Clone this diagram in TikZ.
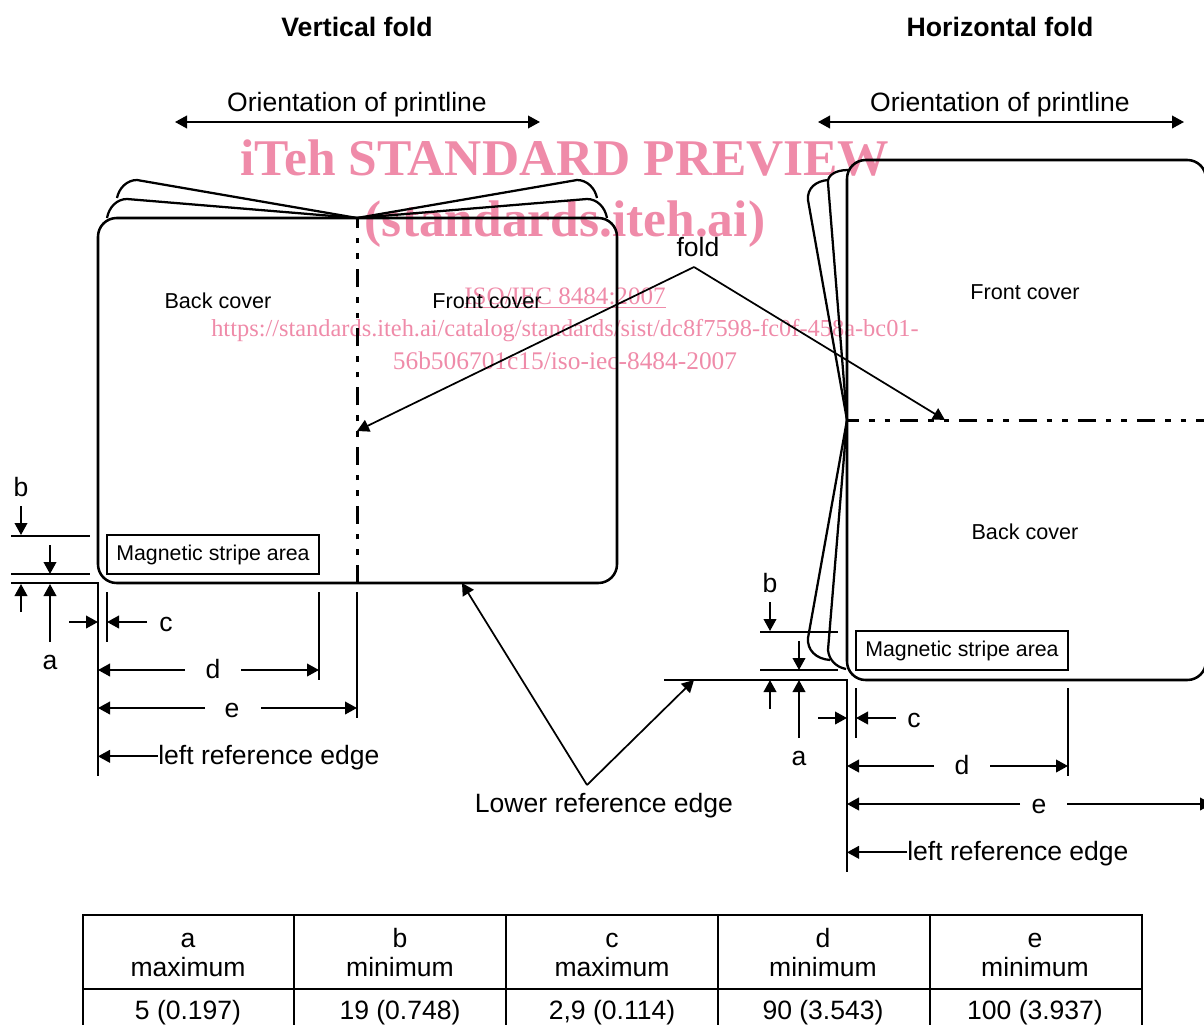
\documentclass[tikz,border=0pt]{standalone}
\usepackage{fontspec}
\setmainfont{Liberation Sans}
\newfontfamily\wmfont{Liberation Serif}
\usetikzlibrary{arrows.meta}
\definecolor{wmpink}{HTML}{EF8BA9}
\tikzset{
  x=0.75pt,y=-0.75pt,
  card/.style={line width=1.9pt,rounded corners=14pt},
  leaf/.style={line width=1.7pt},
  foldv/.style={line width=2.25pt,dash pattern=on 13.5pt off 7.5pt on 4.2pt off 7.5pt on 4.2pt off 7.5pt},
  foldh/.style={foldv,dash phase=4.5pt},
  edge/.style={line width=1.7pt},
  thin line/.style={line width=1.5pt},
  arr/.style={line width=1.3pt,-{Triangle[length=9pt,width=9.5pt]}},
  arrb/.style={line width=1.3pt,{Triangle[length=9pt,width=9.5pt]}-{Triangle[length=9pt,width=9.5pt]}},
  lab/.style={inner sep=0pt,text height=14.5pt,text depth=3pt,yshift=-1pt,font=\fontsize{19.9}{23}\selectfont},
  labs/.style={inner sep=0pt,font=\fontsize{16.2}{20}\selectfont},
  ttl/.style={inner sep=0pt,font=\fontsize{20}{23}\selectfont\bfseries},
  stripe/.style={draw,line width=1.5pt,minimum width=159pt,minimum height=29.5pt,inner sep=0pt,font=\fontsize{16}{20}\selectfont},
  wm/.style={inner sep=0pt,text=wmpink,blend mode=multiply},
}
\begin{document}
\begin{tikzpicture}
\useasboundingbox (0,0) rectangle (1204,1025);
\clip (0,0) rectangle (1204,1025);
% ---------- titles
\node[ttl] (t1) at (357,27) {Vertical fold};
\node[ttl] (t2) at (1000,27) {Horizontal fold};
\node[lab] (o1) at (357,102) {Orientation of printline};
\node[lab] (o2) at (1000,102) {Orientation of printline};
\coordinate (o1l) at (175,122); \coordinate (o1r) at (540,122);
\coordinate (o2l) at (818,122); \coordinate (o2r) at (1184,122);
\draw[arrb] (o1l) -- (o1r);
\draw[arrb] (o2l) -- (o2r);
% ---------- vertical fold card
\coordinate (vf) at (357,218);
\draw[card] (98,583) rectangle (617,218);
\draw[leaf] (107,218) .. controls (109,207) and (117,199) .. (127,199) -- (vf);
\draw[leaf] (117,198) .. controls (119,188) and (127,180) .. (137,180) -- (vf);
\draw[leaf] (607,218) .. controls (605,207) and (597,199) .. (587,199) -- (vf);
\draw[leaf] (597,198) .. controls (595,188) and (587,180) .. (577,180) -- (vf);
\draw[foldv] (357,583) -- (vf);
\node[labs] (bc1) at (218,301) {Back cover};
\node[labs] (fc1) at (487,301) {Front cover};
\node[stripe] (ms1) at (213,554.5) {Magnetic stripe area};
% ---------- horizontal fold card
\coordinate (hf) at (847,420);
\draw[card] (847,680) rectangle (1206,160);
\draw[leaf] (808,200) .. controls (807,188) and (816,181) .. (828,180);
\draw[leaf] (808,200) -- (hf);
\draw[leaf] (828,183) .. controls (827,175) and (836,170) .. (848,170);
\draw[leaf] (828,183) -- (hf);
\draw[leaf] (hf) -- (808,638) .. controls (807,650) and (816,659) .. (830,660);
\draw[leaf] (hf) -- (828,650) .. controls (829,660) and (836,667) .. (846,669);
\draw[foldh] (hf) -- (1204,420);
\node[labs] (fc2) at (1025,292) {Front cover};
\node[labs] (bc2) at (1025,532) {Back cover};
\node[stripe] (ms2) at (962,650.5) {Magnetic stripe area};
% ---------- fold connectors
\node[lab] (fold) at (698,247) {fold};
\coordinate (foldapex) at (694,267);
\coordinate (foldv) at (357,431);
\coordinate (foldh) at (945,420);
\draw[arr] (foldapex) -- (foldv);
\draw[arr] (foldapex) -- (foldh);
\node[lab] (lower) at (604,803) {Lower reference edge};
\coordinate (lowapex) at (587,785);
\coordinate (low1) at (462,583);
\coordinate (low2) at (694,680);
\draw[arr] (lowapex) -- (low1);
\draw[arr] (lowapex) -- (low2);
% ---------- dimensions, left
\coordinate (le1) at (98,776);
\draw[thin line] (11,535.5) -- (90,535.5);
\draw[thin line] (11,574) -- (90,574);
\draw[edge] (11,583) -- (98,583) -- (le1);
\draw[thin line] (107,592) -- (107,642);
\draw[thin line] (319,592) -- (319,680);
\draw[thin line] (357,592) -- (357,718);
\node[lab] (b1) at (21,487) {b};
\node[lab] (a1) at (50,660) {a};
\node[lab] (c1) at (166,622) {c};
\node[lab] (d1) at (213,669) {d};
\node[lab] (e1) at (232,708) {e};
\node[lab,anchor=west] (l1) at (158,755) {left reference edge};
\draw[arr] (21,506) -- (21,535);
\draw[arr] (50,545) -- (50,574);
\draw[arr] (21,612) -- (21,584);
\draw[arr] (50,642) -- (50,584);
\draw[arr] (69,622) -- (98,622);
\draw[arr] (147,622) -- (107,622);
\draw[arr] (185,670) -- (98,670);
\draw[arr] (241,670) -- (319,670);
\draw[arr] (205,708) -- (98,708);
\draw[arr] (261,708) -- (357,708);
\draw[arr] (l1.west) -- (l1.west -| le1);
% ---------- dimensions, right
\coordinate (le2) at (847,872);
\draw[thin line] (760,631.5) -- (838,631.5);
\draw[thin line] (760,670) -- (838,670);
\draw[edge] (664,680) -- (847,680) -- (le2);
\draw[thin line] (856,688) -- (856,738);
\draw[thin line] (1068,688) -- (1068,776);
\node[lab] (b2) at (770,583) {b};
\node[lab] (a2) at (799,756) {a};
\node[lab] (c2) at (914,718) {c};
\node[lab] (d2) at (962,765) {d};
\node[lab] (e2) at (1039,804) {e};
\node[lab,anchor=west] (l2) at (907,851) {left reference edge};
\draw[arr] (770,602) -- (770,631);
\draw[arr] (799,641) -- (799,670);
\draw[arr] (770,709) -- (770,680);
\draw[arr] (799,738) -- (799,680);
\draw[arr] (818,718) -- (847,718);
\draw[arr] (896,718) -- (856,718);
\draw[arr] (934,766) -- (847,766);
\draw[arr] (990,766) -- (1068,766);
\draw[arr] (1020,804) -- (847,804);
\draw[arr] (1067,804) -- (1212,804);
\draw[arr] (l2.west) -- (l2.west -| le2);
% ---------- table
\draw[edge] (83,1030) -- (83,915) -- (1142,915) -- (1142,1030);
\draw[edge] (83,989) -- (1142,989);
\foreach \xx in {294,506,718,930} \draw[edge] (\xx,915) -- (\xx,1030);
\foreach \xx/\nm/\hh/\vv in {188/a/maximum/5 (0.197),400/b/minimum/19 (0.748),612/c/maximum/{2,9 (0.114)},823/d/minimum/90 (3.543),1035/e/minimum/100 (3.937)}{
  \node[lab] (h\nm) at (\xx,938) {\nm};
  \node[lab] (m\nm) at (\xx,967) {\hh};
  \node[lab] (v\nm) at (\xx,1010) {\vv};
}
% ---------- watermark
\node[wm,font=\wmfont\bfseries\fontsize{38.6}{44}\selectfont] (w1) at (565,158) {iTeh STANDARD PREVIEW};
\node[wm,font=\wmfont\bfseries\fontsize{38.6}{44}\selectfont] (w2) at (565,224) {(standards.iteh.ai)};
\node[wm,font=\wmfont\fontsize{18.8}{24}\selectfont] (w3) at (565,298) {\underline{ISO/IEC 8484:2007}};
\node[wm,font=\wmfont\fontsize{18.3}{24}\selectfont] (w4) at (565,331) {https://standards.iteh.ai/catalog/standards/sist/dc8f7598-fc0f-458a-bc01-};
\node[wm,font=\wmfont\fontsize{19.05}{24}\selectfont] (w5) at (565,361) {56b506701c15/iso-iec-8484-2007};
\end{tikzpicture}
\end{document}
